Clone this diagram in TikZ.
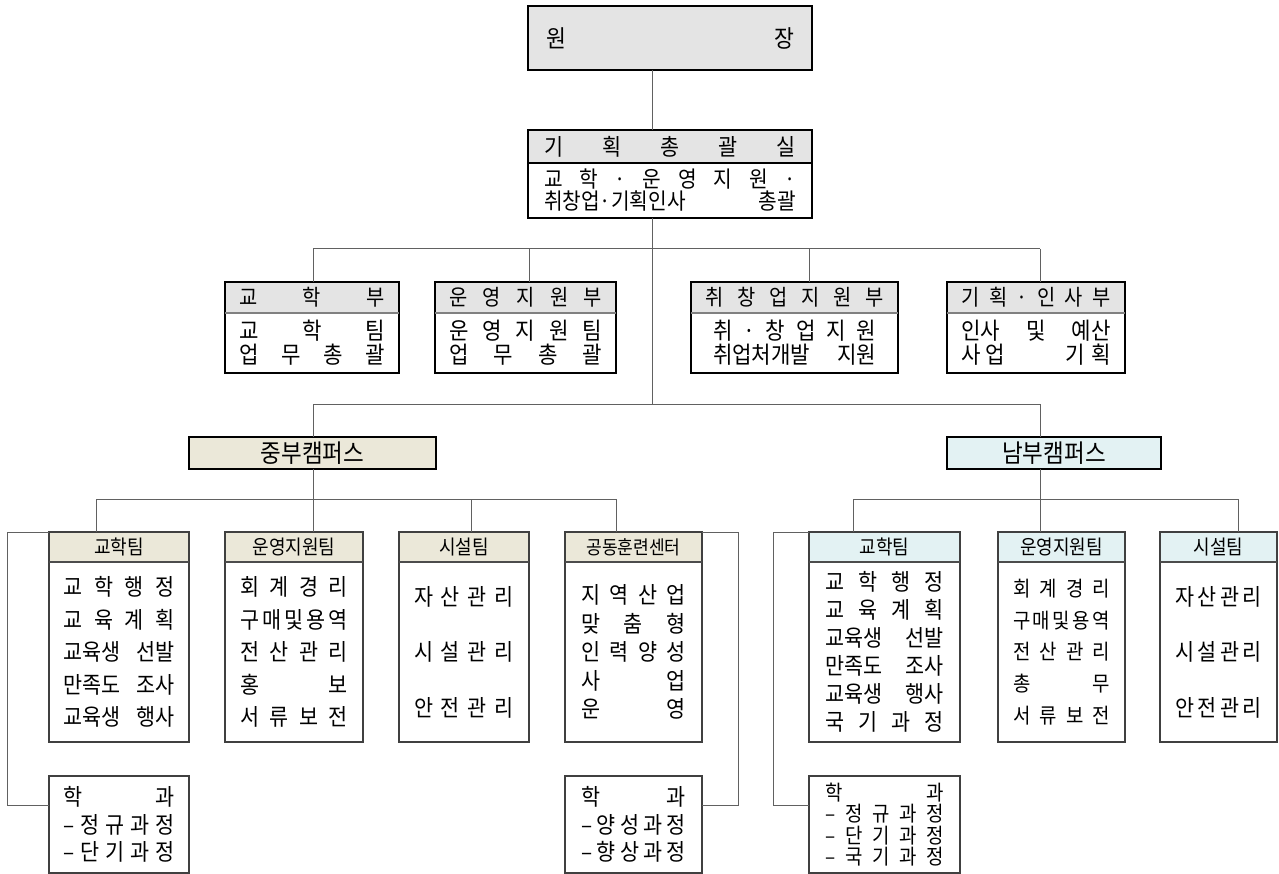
\documentclass[tikz,border=0pt]{standalone}
\usepackage{fontspec}
\setmainfont{Noto Sans CJK KR}[FakeStretch=0.9]
\definecolor{hgray}{HTML}{E4E4E4}
\definecolor{cbeige}{HTML}{EBE8D9}
\definecolor{ccyan}{HTML}{E3F2F3}
\newcommand\dl[2]{\leavevmode\hbox to #1pt{#2}}
\tikzset{
  nb/.style={anchor=north west, inner sep=0pt, outer sep=0pt, align=center},
  frameA/.style={draw=black, line width=2.6pt},
  frameB/.style={draw=black!75, line width=1.2pt},
  sepA/.style={draw=black!50, line width=1.8pt},
  sepB/.style={draw=black!70, line width=1.1pt},
  conn/.style={draw=black!62, line width=1pt},
  fA/.style={font=\fontsize{22}{24}\selectfont},
  fB/.style={font=\fontsize{23.5}{24}\selectfont},
  fT/.style={font=\fontsize{20}{22}\selectfont},
}
\begin{document}
\begin{tikzpicture}[x=1pt,y=-1pt]
\fill[white] (0,0) rectangle (1279,874);
\useasboundingbox (0,0) rectangle (1279,874);

% ---------- top ----------
\node[nb, fill=hgray, minimum width=284, minimum height=64, font=\fontsize{24}{26}\selectfont] (won) at (528,6) {\dl{248}{원\hfill 장}};
\draw[frameA] (won.north west) rectangle (won.south east);

\node[nb, fill=hgray, minimum width=284, minimum height=33, font=\fontsize{23}{25}\selectfont] (gh) at (528,130) {\dl{252}{기\hfill 획\hfill 총\hfill 괄\hfill 실}};
\node[nb, minimum width=284, minimum height=55, text width=284pt, font=\fontsize{22.5}{22}\selectfont] (gb) at (528,163)
 {\dl{252}{교\hfill 학\hfill ·\hfill 운\hfill 영\hfill 지\hfill 원\hfill ·}\\\dl{252}{취창업·기획인사\hfill 총괄}};
\draw[frameA] (gh.north west) rectangle (gb.south east);
\draw[draw=black, line width=1.3pt] (gh.south west) -- (gh.south east);

% ---------- departments ----------
\node[nb, fill=hgray, minimum width=174, minimum height=31, fA] (d1h) at (225,282) {\dl{145}{교\hfill 학\hfill 부}};
\node[nb, minimum width=174, minimum height=60, text width=174pt, fB] (d1b) at (225,313)
 {\dl{145}{교\hfill 학\hfill 팀}\\\dl{145}{업\hfill 무\hfill 총\hfill 괄}};
\draw[frameA] (d1h.north west) rectangle (d1b.south east);
\draw[sepA] (d1h.south west) -- (d1h.south east);

\node[nb, fill=hgray, minimum width=181, minimum height=31, fA] (d2h) at (435,282) {\dl{153}{운\hfill 영\hfill 지\hfill 원\hfill 부}};
\node[nb, minimum width=181, minimum height=60, text width=181pt, fB] (d2b) at (435,313)
 {\dl{153}{운\hfill 영\hfill 지\hfill 원\hfill 팀}\\\dl{153}{업\hfill 무\hfill 총\hfill 괄}};
\draw[frameA] (d2h.north west) rectangle (d2b.south east);
\draw[sepA] (d2h.south west) -- (d2h.south east);

\node[nb, fill=hgray, minimum width=207, minimum height=31, fA] (d3h) at (691,282) {\dl{179}{취\hfill 창\hfill 업\hfill 지\hfill 원\hfill 부}};
\node[nb, minimum width=207, minimum height=60, text width=207pt, fB] (d3b) at (691,313)
 {\dl{163}{취\hfill ·\hfill 창\hfill 업\hfill 지\hfill 원}\\\dl{163}{취업처개발\hfill 지원}};
\draw[frameA] (d3h.north west) rectangle (d3b.south east);
\draw[sepA] (d3h.south west) -- (d3h.south east);

\node[nb, fill=hgray, minimum width=178, minimum height=31, fA] (d4h) at (947,282) {\dl{149}{기\hfill 획\hfill ·\hfill 인\hfill 사\hfill 부}};
\node[nb, minimum width=178, minimum height=60, text width=178pt, fB] (d4b) at (947,313)
 {\dl{149}{인사\hfill 및\hfill 예산}\\\dl{149}{사\hspace{5pt}업\hfill 기\hspace{6pt}획}};
\draw[frameA] (d4h.north west) rectangle (d4b.south east);
\draw[sepA] (d4h.south west) -- (d4h.south east);

% ---------- campuses ----------
\node[nb, fill=cbeige, minimum width=247, minimum height=32, font=\fontsize{25}{26}\selectfont] (jb) at (189,437) {중부캠퍼스};
\draw[frameA] (jb.north west) rectangle (jb.south east);
\node[nb, fill=ccyan, minimum width=214, minimum height=32, font=\fontsize{25}{26}\selectfont] (nbx) at (947,437) {남부캠퍼스};
\draw[frameA] (nbx.north west) rectangle (nbx.south east);

% ---------- central campus teams ----------
\node[nb, fill=cbeige, minimum width=140, minimum height=30, fT] (t1h) at (49,532) {교학팀};
\node[nb, minimum width=140, minimum height=180, text width=140pt, font=\fontsize{23}{32.5}\selectfont] (t1b) at (49,562)
 {\dl{111}{교\hfill 학\hfill 행\hfill 정}\\\dl{111}{교\hfill 육\hfill 계\hfill 획}\\\dl{111}{교육생\hfill 선발}\\\dl{111}{만족도\hfill 조사}\\\dl{111}{교육생\hfill 행사}};
\draw[frameB] (t1h.north west) rectangle (t1b.south east);
\draw[sepB] (t1h.south west) -- (t1h.south east);

\node[nb, fill=cbeige, minimum width=138, minimum height=30, fT] (t2h) at (225,532) {운영지원팀};
\node[nb, minimum width=138, minimum height=180, text width=138pt, font=\fontsize{23}{32.5}\selectfont] (t2b) at (225,562)
 {\dl{108}{회\hfill 계\hfill 경\hfill 리}\\\dl{108}{구\hfill 매\hfill 및\hfill 용\hfill 역}\\\dl{108}{전\hfill 산\hfill 관\hfill 리}\\\dl{108}{홍\hfill 보}\\\dl{108}{서\hfill 류\hfill 보\hfill 전}};
\draw[frameB] (t2h.north west) rectangle (t2b.south east);
\draw[sepB] (t2h.south west) -- (t2h.south east);

\node[nb, fill=cbeige, minimum width=130, minimum height=30, fT] (t3h) at (399,532) {시설팀};
\node[nb, minimum width=130, minimum height=180, text width=130pt, font=\fontsize{23}{55.5}\selectfont] (t3b) at (399,562)
 {\dl{100}{자\hfill 산\hfill 관\hfill 리}\\\dl{100}{시\hfill 설\hfill 관\hfill 리}\\\dl{100}{안\hfill 전\hfill 관\hfill 리}};
\draw[frameB] (t3h.north west) rectangle (t3b.south east);
\draw[sepB] (t3h.south west) -- (t3h.south east);

\node[nb, fill=cbeige, minimum width=137, minimum height=30, font=\fontsize{19}{22}\selectfont] (t4h) at (565,532) {공동훈련센터};
\node[nb, minimum width=137, minimum height=180, text width=137pt, font=\fontsize{23}{28.5}\selectfont] (t4b) at (565,562)
 {\dl{105}{지\hfill 역\hfill 산\hfill 업}\\\dl{105}{맞\hfill 춤\hfill 형}\\\dl{105}{인\hfill 력\hfill 양\hfill 성}\\\dl{105}{사\hfill 업}\\\dl{105}{운\hfill 영}};
\draw[frameB] (t4h.north west) rectangle (t4b.south east);
\draw[sepB] (t4h.south west) -- (t4h.south east);

\node[nb, minimum width=140, minimum height=97, text width=140pt, font=\fontsize{23}{27.5}\selectfont] (h1) at (49,776)
 {\dl{111}{학\hfill 과}\\\dl{111}{–\hfill 정\hfill 규\hfill 과\hfill 정}\\\dl{111}{–\hfill 단\hfill 기\hfill 과\hfill 정}};
\draw[frameB] (h1.north west) rectangle (h1.south east);

\node[nb, minimum width=137, minimum height=97, text width=137pt, font=\fontsize{23}{27.5}\selectfont] (h2) at (565,776)
 {\dl{105}{학\hfill 과}\\\dl{105}{–\hfill 양\hfill 성\hfill 과\hfill 정}\\\dl{105}{–\hfill 향\hfill 상\hfill 과\hfill 정}};
\draw[frameB] (h2.north west) rectangle (h2.south east);

% ---------- southern campus teams ----------
\node[nb, fill=ccyan, minimum width=151, minimum height=30, fT] (s1h) at (809,532) {교학팀};
\node[nb, minimum width=151, minimum height=180, text width=151pt, font=\fontsize{23}{28}\selectfont] (s1b) at (809,562)
 {\dl{118}{교\hfill 학\hfill 행\hfill 정}\\\dl{118}{교\hfill 육\hfill 계\hfill 획}\\\dl{118}{교육생\hfill 선발}\\\dl{118}{만족도\hfill 조사}\\\dl{118}{교육생\hfill 행사}\\\dl{118}{국\hfill 기\hfill 과\hfill 정}};
\draw[frameB] (s1h.north west) rectangle (s1b.south east);
\draw[sepB] (s1h.south west) -- (s1h.south east);

\node[nb, fill=ccyan, minimum width=127, minimum height=30, fT] (s2h) at (998,532) {운영지원팀};
\node[nb, minimum width=127, minimum height=180, text width=127pt, font=\fontsize{21}{31.75}\selectfont] (s2b) at (998,562)
 {\dl{97}{회\hfill 계\hfill 경\hfill 리}\\\dl{97}{구\hfill 매\hfill 및\hfill 용\hfill 역}\\\dl{97}{전\hfill 산\hfill 관\hfill 리}\\\dl{97}{총\hfill 무}\\\dl{97}{서\hfill 류\hfill 보\hfill 전}};
\draw[frameB] (s2h.north west) rectangle (s2b.south east);
\draw[sepB] (s2h.south west) -- (s2h.south east);

\node[nb, fill=ccyan, minimum width=117, minimum height=30, fT] (s3h) at (1160,532) {시설팀};
\node[nb, minimum width=117, minimum height=180, text width=117pt, font=\fontsize{23}{55.5}\selectfont] (s3b) at (1160,562)
 {\dl{87}{자\hfill 산\hfill 관\hfill 리}\\\dl{87}{시\hfill 설\hfill 관\hfill 리}\\\dl{87}{안\hfill 전\hfill 관\hfill 리}};
\draw[frameB] (s3h.north west) rectangle (s3b.south east);
\draw[sepB] (s3h.south west) -- (s3h.south east);

\node[nb, minimum width=151, minimum height=97, text width=151pt, font=\fontsize{21}{21.5}\selectfont] (h3) at (809,776)
 {\dl{118}{학\hfill 과}\\\dl{118}{–\hfill 정\hfill 규\hfill 과\hfill 정}\\\dl{118}{–\hfill 단\hfill 기\hfill 과\hfill 정}\\\dl{118}{–\hfill 국\hfill 기\hfill 과\hfill 정}};
\draw[frameB] (h3.north west) rectangle (h3.south east);

% ---------- connectors ----------
\coordinate (sp) at (652,0);
\coordinate (dL) at (313,249);
\coordinate (dR) at (1040,249);
\coordinate (x2) at (529,249);
\coordinate (x3) at (809,249);
\coordinate (cL) at (313,404);
\coordinate (cR) at (1040,404);
\coordinate (tL) at (96,499);
\coordinate (tM) at (471,499);
\coordinate (tR) at (616,499);
\coordinate (sL) at (853,499);
\coordinate (sR) at (1238,499);
\coordinate (b1) at (7,805);
\coordinate (b2) at (738,805);
\coordinate (b3) at (773,805);

\draw[conn] (won.south -| sp) -- (gh.north -| sp);
\draw[conn] (gb.south -| sp) -- (sp |- cL);
\draw[conn] (dL) -- (dR);
\draw[conn] (dL) -- (dL |- d1h.north);
\draw[conn] (x2) -- (x2 |- d2h.north);
\draw[conn] (x3) -- (x3 |- d3h.north);
\draw[conn] (dR) -- (dR |- d4h.north);
\draw[conn] (cL) -- (cR);
\draw[conn] (cL) -- (cL |- jb.north);
\draw[conn] (cR) -- (cR |- nbx.north);

\draw[conn] (tL) -- (tR);
\draw[conn] (tL) -- (tL |- t1h.north);
\draw[conn] (jb.south -| cL) -- (cL |- t2h.north);
\draw[conn] (tM) -- (tM |- t3h.north);
\draw[conn] (tR) -- (tR |- t4h.north);

\draw[conn] (sL) -- (sR);
\draw[conn] (sL) -- (sL |- s1h.north);
\draw[conn] (nbx.south -| cR) -- (cR |- s2h.north);
\draw[conn] (sR) -- (sR |- s3h.north);

\draw[conn] (t1h.north west) -| (b1) -- (b1 -| h1.west);
\draw[conn] (t4h.north east) -| (b2) -- (b2 -| h2.east);
\draw[conn] (s1h.north west) -| (b3) -- (b3 -| h3.west);
\end{tikzpicture}
\end{document}
